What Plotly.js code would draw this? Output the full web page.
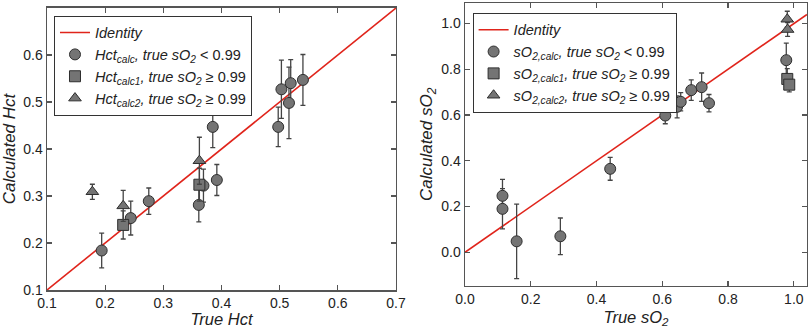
<!DOCTYPE html>
<html><head><meta charset="utf-8">
<script src="https://cdn.plot.ly/plotly-3.0.1.min.js"></script>
<style>html,body{margin:0;padding:0;background:#fff;}#chart{width:808px;height:328px;}</style>
</head><body><div id="chart"></div>
<script>
// Left panel: Hct
const identityHct = [0.1, 0.7];
const hctCircTrue = [0.194, 0.244, 0.275, 0.361, 0.369, 0.392, 0.385, 0.4975, 0.503, 0.519, 0.516, 0.540];
const hctCircCalc = [0.184, 0.253, 0.289, 0.281, 0.322, 0.334, 0.447, 0.447, 0.527, 0.540, 0.498, 0.547];
const hctCircErr  = [0.037, 0.036, 0.028, 0.036, 0.035, 0.033, 0.044, 0.042, 0.062, 0.050, 0.076, 0.054];
const hctSqTrue = [0.231, 0.362];
const hctSqCalc = [0.2385, 0.324];
const hctSqErr  = [0.030, 0.035];
const hctTriTrue = [0.178, 0.231, 0.362];
const hctTriCalc = [0.309, 0.279, 0.375];
const hctTriErr  = [0.016, 0.033, 0.050];
// Right panel: sO2
const identitySO2 = [0, 1.04];
const so2CircTrue = [0.114, 0.114, 0.157, 0.290, 0.4415, 0.609, 0.645, 0.656, 0.688, 0.7196, 0.742, 0.977];
const so2CircCalc = [0.247, 0.190, 0.048, 0.070, 0.365, 0.598, 0.636, 0.658, 0.709, 0.722, 0.652, 0.840];
const so2CircErr  = [0.072, 0.088, 0.163, 0.080, 0.050, 0.036, 0.048, 0.040, 0.045, 0.062, 0.038, 0.075];
const so2SqTrue = [0.980, 0.986];
const so2SqCalc = [0.758, 0.733];
const so2SqErr  = [0.045, 0.032];
const so2TriTrue = [0.980, 0.981];
const so2TriCalc = [1.019, 0.974];
const so2TriErr  = [0.035, 0.030];

const labelsLeft = ['<i>Identity</i>',
  '<i>Hct<sub>calc</sub>, true sO<sub>2</sub></i> < 0.99',
  '<i>Hct<sub>calc1</sub>, true sO<sub>2</sub></i> ≥ 0.99',
  '<i>Hct<sub>calc2</sub>, true sO<sub>2</sub></i> ≥ 0.99'];
const labelsRight = ['<i>Identity</i>',
  '<i>sO<sub>2,calc</sub>, true sO<sub>2</sub></i> < 0.99',
  '<i>sO<sub>2,calc1</sub>, true sO<sub>2</sub></i> ≥ 0.99',
  '<i>sO<sub>2,calc2</sub>, true sO<sub>2</sub></i> ≥ 0.99'];

const lineColor = '#e0241b';
const mFill = '#747474';
const mLine = '#2e2e2e';
const errStyle = (arr) => ({type:'data', array:arr, visible:true, color:'#444', thickness:1.3, width:2.5});
const mk = (sym) => ({symbol:sym, size:11, color:mFill, line:{color:mLine, width:1}});

const traces = [];
function addPanel(xa, ya, leg, idArr, sets, labels){
  traces.push({x:idArr, y:idArr, xaxis:xa, yaxis:ya, legend:leg, mode:'lines', name:labels[0],
    line:{color:lineColor, width:1.6}, hoverinfo:'skip'});
  const syms = ['circle','square','triangle-up'];
  sets.forEach((s,i)=>{
    traces.push({x:s[0], y:s[1], error_y:errStyle(s[2]), xaxis:xa, yaxis:ya, legend:leg,
      mode:'markers', name:labels[i+1], marker:mk(syms[i])});
  });
}
addPanel('x','y','legend',identityHct,
  [[hctCircTrue,hctCircCalc,hctCircErr],[hctSqTrue,hctSqCalc,hctSqErr],[hctTriTrue,hctTriCalc,hctTriErr]], labelsLeft);
addPanel('x2','y2','legend2',identitySO2,
  [[so2CircTrue,so2CircCalc,so2CircErr],[so2SqTrue,so2SqCalc,so2SqErr],[so2TriTrue,so2TriCalc,so2TriErr]], labelsRight);

const font = {family:'Liberation Sans, Arial, sans-serif', size:14, color:'#222'};
const axBase = {showgrid:false, zeroline:false, showline:true, linecolor:'#555', linewidth:1.5,
  mirror:'ticks', ticks:'inside', ticklen:5, tickwidth:1.3, tickcolor:'#555',
  tickfont:{size:14, color:'#222'}, tickformat:'.1f'};
const legBase = {bgcolor:'#fff', bordercolor:'#333', borderwidth:1, font:{size:14.5, color:'#222'},
  xanchor:'left', yanchor:'top', tracegroupgap:0, itemwidth:30};

const layout = {
  width:808, height:328, showlegend:true, font:font,
  paper_bgcolor:'#fff', plot_bgcolor:'#fff',
  margin:{l:47, r:1, t:3, b:38},
  xaxis:Object.assign({}, axBase, {domain:[0,0.4592], range:[0.1,0.7], dtick:0.1, tick0:0.1,
    title:{text:'<i>True Hct</i>', font:{size:16.5}, standoff:5}}),
  yaxis:Object.assign({}, axBase, {domain:[0,0.9826], range:[0.1,0.7], dtick:0.1, tick0:0.1,
    title:{text:'<i>Calculated Hct</i>', font:{size:17}, standoff:4}}),
  xaxis2:Object.assign({}, axBase, {anchor:'y2', domain:[0.55,1], range:[0,1.04], dtick:0.2, tick0:0,
    title:{text:'<i>True sO<sub>2</sub></i>', font:{size:16.5}, standoff:5}}),
  yaxis2:Object.assign({}, axBase, {anchor:'x2', domain:[0.015,1], range:[-0.146,1.09], dtick:0.2, tick0:0,
    title:{text:'<i>Calculated sO<sub>2</sub></i>', font:{size:17}, standoff:4}}),
  legend:Object.assign({}, legBase, {x:0.0092, y:0.956}),
  legend2:Object.assign({}, legBase, {x:0.560, y:0.966})
};
Plotly.newPlot('chart', traces, layout, {staticPlot:true, displayModeBar:false});
</script></body></html>
